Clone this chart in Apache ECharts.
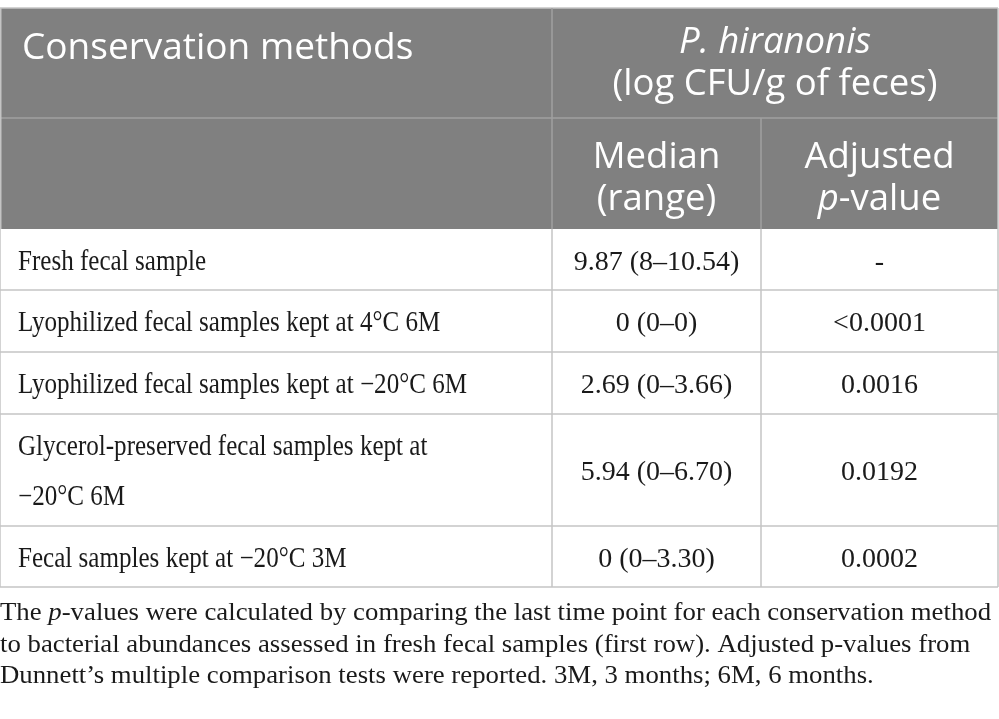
<!DOCTYPE html>
<html>
<head>
<meta charset="utf-8">
<script src="https://cdn.jsdelivr.net/npm/echarts@6/dist/echarts.min.js"></script>
<style>
  html, body { margin: 0; padding: 0; background: #fff; }
  #chart { width: 999px; height: 719px; }
</style>
</head>
<body>
<div id="chart"></div>
<script>
// Table content
const headerMethod = 'Conservation methods';
const headerGroup = '{i|P. hiranonis}\n(log CFU/g of feces)';
const headerCols = ['Median\n(range)', 'Adjusted\n{i|p}-value'];
const methods = [
    'Fresh fecal sample',
    'Lyophilized fecal samples kept at 4°C 6M',
    'Lyophilized fecal samples kept at \u221220°C 6M',
    'Glycerol-preserved fecal samples kept at\n\u221220°C 6M',
    'Fecal samples kept at \u221220°C 3M'
];
const medianRange = ['9.87 (8\u201310.54)', '0 (0\u20130)', '2.69 (0\u20133.66)', '5.94 (0\u20136.70)', '0 (0\u20133.30)'];
const adjustedP = ['-', '<0.0001', '0.0016', '0.0192', '0.0002'];
const footnote = 'The {i|p}-values were calculated by comparing the last time point for each conservation method\n' +
    'to bacterial abundances assessed in fresh fecal samples (first row). Adjusted p-values from\n' +
    'Dunnett\u2019s multiple comparison tests were reported. 3M, 3 months; 6M, 6 months.';

// Layout
const colX = [0, 552, 761, 998];
const headTop = 8;
const headRows = [110, 111];
const bodyRows = [61, 62, 62, 112, 61];

const headFont = '"Open Sans", sans-serif';
const bodyFont = '"Liberation Serif", serif';
const headBg = '#808080';
const headLine = '#a0a0a0';
const bodyLine = '#c4c4c4';
const textColor = '#1a1a1a';

function buildGraphic() {
    const els = [];
    const headMid = headTop + headRows[0];
    const headBottom = headMid + headRows[1];

    els.push({ type: 'rect', shape: { x: colX[0], y: headTop, width: colX[3] - colX[0], height: headBottom - headTop }, style: { fill: headBg } });

    const hl = (x1, y1, x2, y2, c) => els.push({ type: 'line', z: 10, shape: { x1, y1, x2, y2 }, style: { stroke: c, lineWidth: 1.5 } });
    hl(colX[0], headTop, colX[3], headTop, bodyLine);
    hl(colX[0], headMid, colX[3], headMid, headLine);
    hl(colX[1], headTop, colX[1], headBottom, headLine);
    hl(colX[2], headMid, colX[2], headBottom, headLine);

    const italicRich = { i: { fontStyle: 'italic', fontFamily: headFont, fontSize: 36.5, fill: '#fff' } };
    els.push({ type: 'text', z: 20, style: { x: 22, y: headTop + 40, text: headerMethod, fill: '#fff', fontSize: 37, fontFamily: headFont, verticalAlign: 'middle' } });
    els.push({ type: 'text', z: 20, style: { x: (colX[1] + colX[3]) / 2, y: headTop + headRows[0] / 2 + 1, text: headerGroup, fill: '#fff', fontSize: 36.5, fontFamily: headFont, lineHeight: 42, align: 'center', verticalAlign: 'middle', rich: italicRich } });
    headerCols.forEach((t, i) => {
        els.push({ type: 'text', z: 20, style: { x: (colX[i + 1] + colX[i + 2]) / 2, y: headMid + headRows[1] / 2 + 5, text: t, fill: '#fff', fontSize: 36.5, fontFamily: headFont, lineHeight: 42, align: 'center', verticalAlign: 'middle', rich: italicRich } });
    });

    // body rows
    let y = headBottom;
    methods.forEach((m, r) => {
        const h = bodyRows[r];
        const cy = y + h / 2 + 3;
        els.push({ type: 'text', z: 20, x: 18, y: cy, scaleX: 0.88, style: { x: 0, y: 0, text: m, fill: textColor, fontSize: 28.5, fontFamily: bodyFont, lineHeight: 50, verticalAlign: 'middle' } });
        els.push({ type: 'text', z: 20, style: { x: (colX[1] + colX[2]) / 2, y: cy, text: medianRange[r], fill: textColor, fontSize: 28, fontFamily: bodyFont, align: 'center', verticalAlign: 'middle' } });
        els.push({ type: 'text', z: 20, style: { x: (colX[2] + colX[3]) / 2, y: cy, text: adjustedP[r], fill: textColor, fontSize: 28, fontFamily: bodyFont, align: 'center', verticalAlign: 'middle' } });
        y += h;
        hl(colX[0], y, colX[3], y, bodyLine);
    });
    colX.forEach(x => hl(x, headBottom, x, y, bodyLine));
    hl(colX[0] + 0.75, headTop, colX[0] + 0.75, headBottom, bodyLine);
    hl(colX[3], headTop, colX[3], headBottom, bodyLine);

    // footnote
    els.push({ type: 'text', z: 20, x: 0, y: y + 11, scaleX: 1.05, style: { x: 0, y: 0, text: footnote, fill: textColor, fontSize: 25.5, fontFamily: bodyFont, lineHeight: 31.5, verticalAlign: 'top', rich: { i: { fontStyle: 'italic', fontSize: 25.5, fontFamily: bodyFont, fill: textColor } } } });
    return els;
}

const chart = echarts.init(document.getElementById('chart'), null, { renderer: 'canvas' });
chart.setOption({
    backgroundColor: '#fff',
    animation: false,
    graphic: { elements: buildGraphic() }
});
</script>
</body>
</html>
